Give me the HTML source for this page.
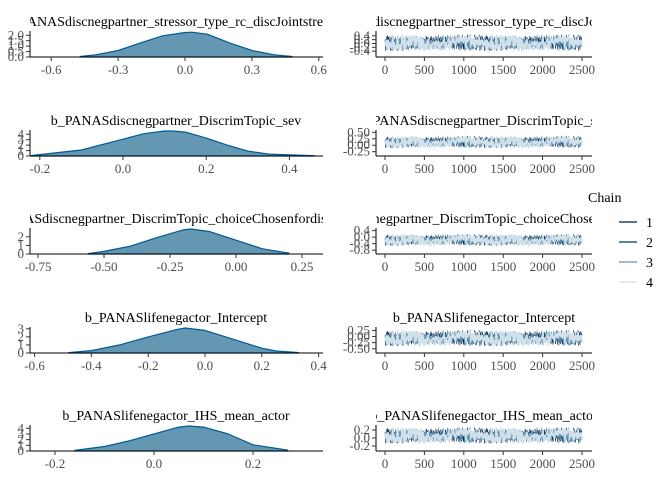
<!DOCTYPE html>
<html><head><meta charset="utf-8"><style>
body{margin:0;background:#fff}
svg{display:block}
text{font-family:"Liberation Serif",serif}
</style></head><body>
<svg id="chart" width="672" height="480" xmlns="http://www.w3.org/2000/svg">
<g id="panels"></g>
<g>
<text x="588" y="202" font-size="14" fill="#000">Chain</text>
<g><line x1="619" x2="637" y1="222" y2="222" stroke="#011f4b" stroke-width="1.2"/><text x="646" y="227" font-size="14">1</text></g>
<g><line x1="619" x2="637" y1="242" y2="242" stroke="#03396c" stroke-width="1.2"/><text x="646" y="247" font-size="14">2</text></g>
<g><line x1="619" x2="637" y1="262" y2="262" stroke="#6497b1" stroke-width="1.2"/><text x="646" y="267" font-size="14">3</text></g>
<g><line x1="619" x2="637" y1="282" y2="282" stroke="#d1e1ec" stroke-width="1.2"/><text x="646" y="287" font-size="14">4</text></g>
</g>
</svg>
<script>
const titles=["b_PANASdiscnegpartner_stressor_type_rc_discJointstressor","b_PANASdiscnegpartner_DiscrimTopic_sev","b_PANASdiscnegpartner_DiscrimTopic_choiceChosenfordiscussion","b_PANASlifenegactor_Intercept","b_PANASlifenegactor_IHS_mean_actor"];
const densX=[
[-0.47,-0.4,-0.3,-0.2,-0.1,0,0.03,0.1,0.2,0.3,0.4,0.48],
[-0.22,-0.1,-0.05,0,0.05,0.1,0.12,0.15,0.2,0.25,0.3,0.35,0.46],
[-0.56,-0.5,-0.4,-0.3,-0.2,-0.17,-0.1,0,0.1,0.2],
[-0.48,-0.4,-0.3,-0.2,-0.1,-0.07,0,0.1,0.2,0.25,0.33],
[-0.16,-0.1,-0.05,0,0.05,0.07,0.1,0.15,0.2,0.27]];
const densY=[
[0.05,0.2,0.6,1.3,1.95,2.25,2.28,2.1,1.3,0.6,0.2,0.05],
[0.1,1.1,2.1,3.1,4.1,4.6,4.6,4.4,3.3,2.0,0.9,0.35,0.05],
[0.05,0.3,0.9,1.9,2.8,2.9,2.6,1.6,0.6,0.1],
[0.05,0.3,1.0,2.0,2.9,3.1,2.8,1.7,0.6,0.25,0.05],
[0.1,0.8,1.8,3.0,4.2,4.4,4.2,3.0,1.1,0.15]];
const densXTicks=[[-0.6,-0.3,0,0.3,0.6],[-0.2,0,0.2,0.4],[-0.75,-0.5,-0.25,0,0.25],[-0.6,-0.4,-0.2,0,0.2,0.4],[-0.2,0,0.2]];
const densXLabels=[["-0.6","-0.3","0.0","0.3","0.6"],["-0.2","0.0","0.2","0.4"],["-0.75","-0.50","-0.25","0.00","0.25"],["-0.6","-0.4","-0.2","0.0","0.2","0.4"],["-0.2","0.0","0.2"]];
const densYTicks=[[0,0.5,1,1.5,2],[0,1,2,3,4],[0,1,2],[0,1,2,3],[0,1,2,3,4]];
const densYLabels=[["0.0","0.5","1.0","1.5","2.0"],["0","1","2","3","4"],["0","1","2"],["0","1","2","3"],["0","1","2","3","4"]];
const densYMax=[2.3,4.6,2.9,3.1,4.4];
const traceYTicks=[[-0.4,-0.2,0,0.2,0.4],[-0.25,0,0.25,0.5],[-0.8,-0.4,0,0.4],[-0.5,-0.25,0,0.25],[-0.2,0,0.2]];
const traceYLabels=[["-0.4","-0.2","0.0","0.2","0.4"],["-0.25","0.00","0.25","0.50"],["-0.8","-0.4","0.0","0.4"],["-0.50","-0.25","0.00","0.25"],["-0.2","0.0","0.2"]];
const traceYRange=[[-0.55,0.6],[-0.3,0.55],[-0.85,0.5],[-0.55,0.35],[-0.25,0.3]];
const traceMean=[0.03,0.12,-0.18,-0.07,0.06];
const traceSd=[0.17,0.09,0.14,0.13,0.08];
const iterTicks=[0,500,1000,1500,2000,2500];
const traceZ=[0.3,-1.2,0.8,1.9,-0.4,-2.1,0.6,1.1,-0.9,0.2,2.3,-1.5,0.1,-0.6,1.4,-2.4,0.9,0.4,-1.0,1.7,-0.2,-1.8,0.7,2.0,-0.5,0.0,-1.3,1.2,-2.2,0.5,1.6,-0.8,0.3,-1.6,2.5,-0.1,-0.7,1.0,-1.9,0.8,1.5,-0.3,-2.0,0.6,1.8,-1.1,0.2,-0.4,2.1,-1.4];
const chainColors=["#011f4b","#03396c","#6497b1","#d1e1ec"];
const chainShift=[7,31,17,0];
const chainWidth=[0.5,0.5,0.7,1.6];
const axes=[57,156,254,353,451];
const densScale=[[185,223],[123,416],[236,264],[205,284],[154,495]];
const NS="http://www.w3.org/2000/svg";
const root=document.getElementById('panels');
function mk(tag,attrs,parent){const e=document.createElementNS(NS,tag);for(const k in attrs)e.setAttribute(k,attrs[k]);(parent||root).appendChild(e);return e;}
function txt(parent,x,y,s,size,anchor,fill){const t=mk('text',{x:x,y:y,'font-size':size,'text-anchor':anchor,fill:fill},parent);t.textContent=s;return t;}
const defs=mk('defs',{});
for(let r=0;r<5;r++){
  const ay=axes[r], top=ay-26;
  const gd=mk('g',{});
  
  
  const cpL=mk('clipPath',{id:'cl'+r},defs);mk('rect',{x:30,y:0,width:293,height:480},cpL);
  const cpR=mk('clipPath',{id:'cr'+r},defs);mk('rect',{x:376,y:0,width:216,height:480},cpR);
  const tl=txt(gd,176,ay-31,titles[r],14,'middle','#000');tl.setAttribute('clip-path','url(#cl'+r+')');
  
  
  const xs=v=>densScale[r][0]+v*densScale[r][1];
  const ys=v=>ay-v/densYMax[r]*25;
  let d='M'+xs(densX[r][0])+','+ay;
  densX[r].forEach((v,i)=>{d+=' L'+xs(v).toFixed(1)+','+ys(densY[r][i]).toFixed(1);});
  d+=' L'+xs(densX[r][densX[r].length-1])+','+ay+' Z';
  const area=mk('path',{d:d,fill:'#6497b1',stroke:'#005b96','stroke-width':1.2,'stroke-linejoin':'round'},gd);
  
  
  mk('line',{x1:30,x2:323,y1:ay,y2:ay,stroke:'#000','stroke-width':1},gd);
  mk('line',{x1:30,x2:30,y1:top,y2:ay,stroke:'#000','stroke-width':1},gd);
  densXTicks[r].forEach((v,i)=>{mk('line',{x1:xs(v),x2:xs(v),y1:ay,y2:ay+4,stroke:'#333'},gd);txt(gd,xs(v),ay+17,densXLabels[r][i],13,'middle','#4d4d4d');});
  densYTicks[r].forEach((v,i)=>{mk('line',{x1:26,x2:30,y1:ys(v),y2:ys(v),stroke:'#333'},gd);txt(gd,24,ys(v)+4,densYLabels[r][i],13,'end','#4d4d4d');});
  const gt=mk('g',{});
  
  
  const tr=txt(gt,484,ay-31,titles[r],14,'middle','#000');tr.setAttribute('clip-path','url(#cr'+r+')');
  
  
  const ix=v=>385+v/2500*197;
  const [lo,hi]=traceYRange[r];
  const iy=v=>ay-3-(v-lo)/(hi-lo)*22;
  chainColors.forEach((c,ci)=>{
    let p='';const n=300;
    for(let k=0;k<n;k++){const z=traceZ[(k*7+chainShift[ci]+k%3)%traceZ.length];p+=(k?' L':'M')+ix(k/(n-1)*2500).toFixed(1)+','+iy(traceMean[r]+traceSd[r]*z).toFixed(1);}
    const pl=mk('path',{d:p,fill:'none',stroke:c,'stroke-width':chainWidth[ci]},gt);
    
    
  });
  mk('line',{x1:376,x2:592,y1:ay,y2:ay,stroke:'#000'},gt);
  mk('line',{x1:376,x2:376,y1:top,y2:ay,stroke:'#000'},gt);
  iterTicks.forEach(v=>{mk('line',{x1:ix(v),x2:ix(v),y1:ay,y2:ay+4,stroke:'#333'},gt);txt(gt,ix(v),ay+17,String(v),13,'middle','#4d4d4d');});
  traceYTicks[r].forEach((v,i)=>{mk('line',{x1:372,x2:376,y1:iy(v),y2:iy(v),stroke:'#333'},gt);txt(gt,370,iy(v)+4,traceYLabels[r][i],13,'end','#4d4d4d');});
}
</script>
</body></html>
